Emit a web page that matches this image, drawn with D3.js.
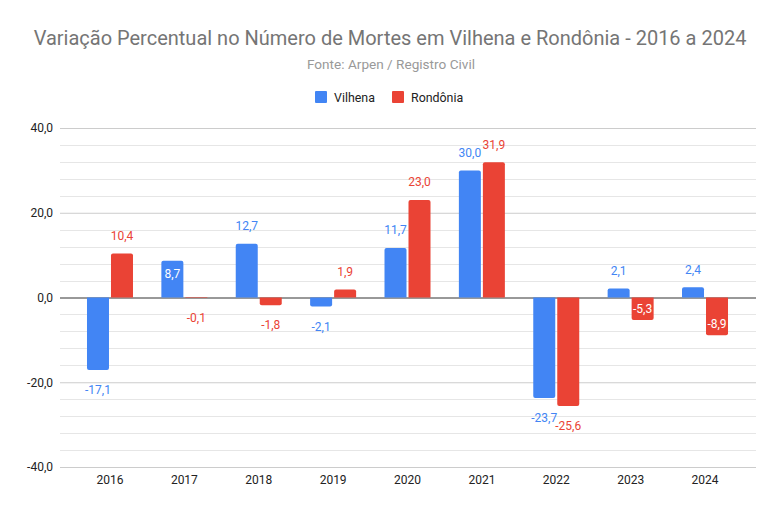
<!DOCTYPE html>
<html lang="pt">
<head>
    <meta charset="UTF-8">
    <title>Variação Percentual no Número de Mortes</title>
    <script src="https://d3js.org/d3.v7.min.js"></script>
    <style>
        body { margin: 0; background: #fff; }
        svg { display: block; font-family: Roboto, "Noto Sans", sans-serif; }
    </style>
</head>
<body>
<script>
    // data
    const years = ["2016", "2017", "2018", "2019", "2020", "2021", "2022", "2023", "2024"];
    const seriesNames = ["Vilhena", "Rondônia"];
    const vilhena = [-17.1, 8.7, 12.7, -2.1, 11.7, 30.0, -23.7, 2.1, 2.4];
    const rondonia = [10.4, -0.1, -1.8, 1.9, 23.0, 31.9, -25.6, -5.3, -8.9];
    const yTicks = [-40, -20, 0, 20, 40];
    const colors = ["#4285F4", "#EA4335"];
    // labels that sit inside their bar (white text)
    const insideLabels = new Set(["Vilhena-2017", "Rondônia-2023", "Rondônia-2024"]);

    const width = 781, height = 513;
    const plotLeft = 60, plotRight = 756, plotTop = 128, plotBottom = 467;

    const svg = d3.select("body").append("svg")
        .attr("width", width)
        .attr("height", height);

    // title, subtitle
    svg.append("text")
        .attr("x", 390).attr("y", 45)
        .attr("text-anchor", "middle")
        .attr("font-size", 20)
        .attr("fill", "#757575")
        .text("Variação Percentual no Número de Mortes em Vilhena e Rondônia - 2016 a 2024");

    svg.append("text")
        .attr("x", 391).attr("y", 69)
        .attr("text-anchor", "middle")
        .attr("font-size", 13.6)
        .attr("fill", "#999")
        .text("Fonte: Arpen / Registro Civil");

    // legend
    const legendX = [315, 392];
    seriesNames.forEach((name, i) => {
        svg.append("rect")
            .attr("x", legendX[i]).attr("y", 91)
            .attr("width", 12).attr("height", 12)
            .attr("rx", 1)
            .attr("fill", colors[i]);
        svg.append("text")
            .attr("x", legendX[i] + 19).attr("y", 101.5)
            .attr("font-size", 12.4)
            .attr("fill", "#222")
            .text(name);
    });

    const y = d3.scaleLinear().domain([-40, 40]).range([plotBottom, plotTop]);
    const x = d3.scaleBand().domain(years).range([72.8, 742.2]);
    const barW = 22, gap = 2;

    // minor gridlines every 4
    const minor = d3.range(-40, 41, 4).filter(v => v % 20 !== 0);
    svg.append("g").selectAll("line")
        .data(minor)
        .join("line")
        .attr("x1", plotLeft).attr("x2", plotRight)
        .attr("y1", d => Math.round(y(d)) + 0.5).attr("y2", d => Math.round(y(d)) + 0.5)
        .attr("stroke", "#e6e6e6");

    // major gridlines + tick labels
    const fmt = v => d3.format(".1f")(v).replace(".", ",").replace("−", "-");
    const yAxis = d3.axisLeft(y)
        .tickValues(yTicks)
        .tickSize(-(plotRight - plotLeft))
        .tickPadding(7)
        .tickFormat(fmt);
    const gy = svg.append("g")
        .attr("transform", `translate(${plotLeft},0)`)
        .call(yAxis);
    gy.select(".domain").remove();
    gy.selectAll(".tick line").attr("stroke", d => d === 0 ? "#333" : "#ccc");
    gy.selectAll(".tick text")
        .attr("font-size", 12)
        .attr("fill", "#222")
        .attr("font-family", "Roboto, sans-serif");

    // x labels
    const gx = svg.append("g")
        .attr("transform", `translate(0,${plotBottom})`)
        .call(d3.axisBottom(x).tickSize(0).tickPadding(8));
    gx.select(".domain").remove();
    gx.selectAll(".tick text")
        .attr("font-size", 12)
        .attr("fill", "#222")
        .attr("font-family", "Roboto, sans-serif");

    // bars
    const rows = [];
    years.forEach((yr, i) => {
        [vilhena[i], rondonia[i]].forEach((v, s) => {
            rows.push({ year: yr, series: s, value: v });
        });
    });

    const barX = d => x(d.year) + x.bandwidth() / 2 + (d.series === 0 ? -barW - gap / 2 : gap / 2);
    const isInside = d => insideLabels.has(seriesNames[d.series] + "-" + d.year);

    svg.append("g").selectAll("path")
        .data(rows)
        .join("path")
        .attr("fill", d => colors[d.series])
        .attr("d", d => {
            const x0 = barX(d), x1 = x0 + barW;
            const y0 = y(0), y1 = y(d.value);
            const h = Math.abs(y1 - y0);
            const r = Math.min(2, h / 2);
            if (d.value >= 0) {
                return `M${x0},${y0}V${y1 + r}Q${x0},${y1} ${x0 + r},${y1}H${x1 - r}Q${x1},${y1} ${x1},${y1 + r}V${y0}Z`;
            }
            return `M${x0},${y0}V${y1 - r}Q${x0},${y1} ${x0 + r},${y1}H${x1 - r}Q${x1},${y1} ${x1},${y1 - r}V${y0}Z`;
        });

    // value labels
    svg.append("g").selectAll("text")
        .data(rows)
        .join("text")
        .attr("x", d => barX(d) + barW / 2)
        .attr("y", d => {
            const end = y(d.value);
            if (isInside(d)) return d.value >= 0 ? end + 13 : end - 11;
            return d.value >= 0 ? end - 18 : end + 20;
        })
        .attr("dy", "0.35em")
        .attr("text-anchor", "middle")
        .attr("font-size", 12)
        .attr("fill", d => isInside(d) ? "#fff" : colors[d.series])
        .text(d => fmt(d.value));
</script>
</body>
</html>
